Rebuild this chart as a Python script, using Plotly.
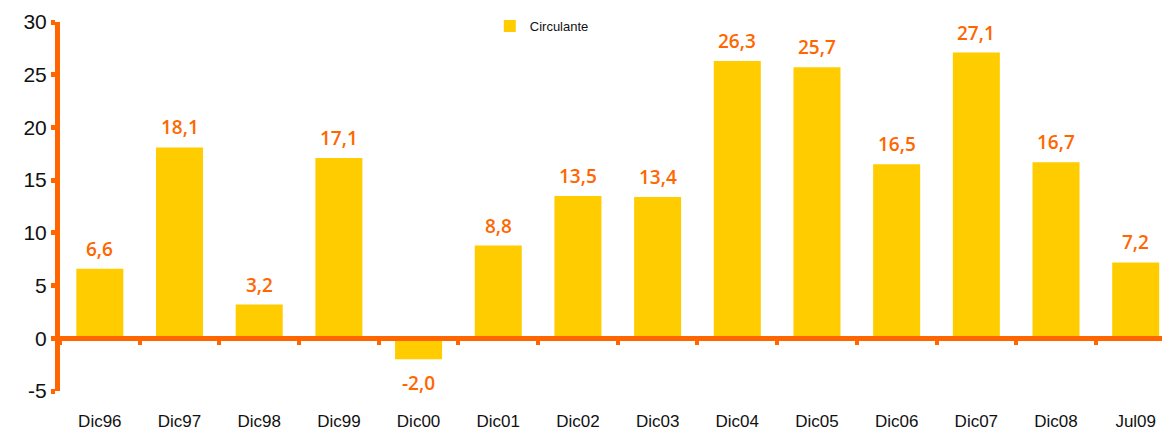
import plotly.graph_objects as go

# data
periodos = ["Dic96", "Dic97", "Dic98", "Dic99", "Dic00", "Dic01", "Dic02",
            "Dic03", "Dic04", "Dic05", "Dic06", "Dic07", "Dic08", "Jul09"]
circulante = [6.6, 18.1, 3.2, 17.1, -2.0, 8.8, 13.5, 13.4, 26.3, 25.7, 16.5, 27.1, 16.7, 7.2]
ticks_y = [-5, 0, 5, 10, 15, 20, 25, 30]

naranja = "#FF6600"
amarillo = "#FFCC00"

fig = go.Figure()
fig.add_trace(go.Bar(
    x=periodos, y=circulante, name="Circulante",
    marker=dict(color=amarillo, line=dict(width=0)),
    width=0.59, hoverinfo="x+y",
))
# invisible trace on second x axis to draw the zero line with boundary ticks
fig.add_trace(go.Bar(x=periodos, y=[0] * len(periodos), xaxis="x2",
                     showlegend=False, hoverinfo="skip", marker_color="rgba(0,0,0,0)"))

# value labels
for p, v in zip(periodos, circulante):
    fig.add_annotation(
        x=p, y=v, text=f"{v:.1f}".replace(".", ","), showarrow=False,
        yanchor="bottom" if v >= 0 else "top", yshift=5 if v >= 0 else -9,
        font=dict(color=naranja, size=19, family="Open Sans", weight=600),
    )

x_rango = [-0.5, 13.33]

fig.update_layout(
    width=1162, height=430,
    margin=dict(l=60, r=0, t=22, b=39),
    plot_bgcolor="white", paper_bgcolor="white",
    font=dict(family="Liberation Sans", color="#111111"),
    showlegend=True,
    legend=dict(x=0.39, y=1.03, xanchor="left", yanchor="top",
                font=dict(size=13, family="Liberation Sans"), bgcolor="rgba(0,0,0,0)"),
    yaxis=dict(range=[-5, 30], tickvals=ticks_y, ticktext=[str(t) for t in ticks_y],
               showgrid=False, zeroline=False, automargin=False,
               showline=True, linecolor=naranja, linewidth=5,
               ticks="outside", ticklen=4, tickwidth=5, tickcolor=naranja,
               tickfont=dict(size=21, family="Liberation Sans", color="#111111")),
    xaxis=dict(range=x_rango, showline=False, showgrid=False, zeroline=False,
               automargin=False, ticks="outside", ticklen=15, tickcolor="rgba(0,0,0,0)",
               tickfont=dict(size=17, family="Liberation Sans", color="#111111")),
    xaxis2=dict(overlaying="x", anchor="free", position=5 / 35, matches="x",
                range=x_rango,
                showline=True, linecolor=naranja, linewidth=5, automargin=False,
                ticks="outside", tickson="boundaries", ticklen=4, tickwidth=4,
                tickcolor=naranja, showticklabels=False, showgrid=False, zeroline=False),
)

# drop the default page margin so the chart fills the window
fig.write_html("out.html", config={"displayModeBar": False},
               post_script="document.body.style.margin = '0';")
